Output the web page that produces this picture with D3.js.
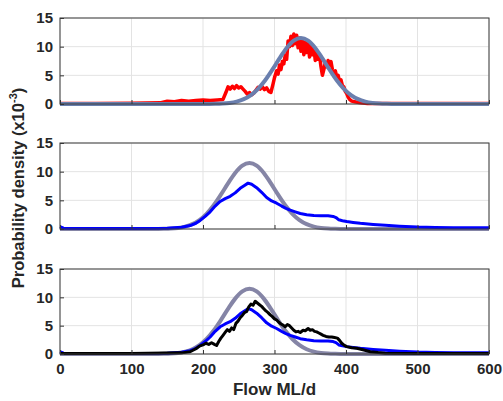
<!DOCTYPE html>
<html><head><meta charset="utf-8">
<script src="https://cdn.jsdelivr.net/npm/d3@7/dist/d3.min.js"></script>
<style>body{margin:0;background:#fff}svg{display:block}</style>
</head><body>
<script>
const xTicks = [0,100,200,300,400,500,600];
const yTicks = [0,5,10,15];

const redFlow = [0,50,100,140,150,160,170,180,190,200,210,220,228,232,235,238,241,244,247,250,253,256,259,262,265,268,271,274,277,280,283,286,289,292,295,298,300,303,305,307,309,311,313,315,317,319,321,323,325,327,329,331,333,335,337,339,341,343,345,347,349,351,353,355,357,359,361,363,365,367,369,371,373,375,377,379,381,383,385,387,389,391,393,395,397,399,401,403,405,408,412,416,420,430,500,600];
const redDensity = [0.1,0.1,0.15,0.2,0.5,0.4,0.6,0.5,0.6,0.7,0.6,0.7,0.8,2.0,3.0,2.6,3.1,2.7,3.2,2.8,3.0,2.6,2.2,1.7,2.0,1.6,1.9,2.4,2.9,2.6,3.0,2.5,2.8,2.2,2.0,3.5,4.6,5.8,5.2,6.8,6.0,7.4,7.0,8.5,7.8,11.0,10.0,11.8,10.2,12.2,10.5,12.0,9.8,11.5,9.2,11.0,8.6,10.8,9.0,10.5,8.2,10.2,8.6,9.8,7.6,9.0,7.8,8.5,6.5,5.0,6.0,7.2,6.5,7.6,6.8,7.4,6.0,5.4,5.8,4.8,5.0,4.0,4.2,3.2,3.0,2.2,1.8,1.2,0.8,0.5,0.4,0.3,0.2,0.1,0.1,0.1];

const fit1Flow = [0,200,217,227,237,247,257,267,277,287,297,307,317,327,337,347,357,367,377,387,397,407,417,427,437,447,457,470,600];
const fit1Density = [0,0,0.03,0.08,0.19,0.42,0.84,1.56,2.65,4.14,5.98,7.96,9.77,11.04,11.5,11.04,9.77,7.96,5.98,4.14,2.65,1.56,0.84,0.42,0.19,0.08,0.03,0,0];

const fit2Flow = [0,130,145,155,165,175,185,195,205,215,225,235,245,255,265,275,285,295,305,315,325,335,345,355,365,375,385,398,600];
const fit2Density = [0,0,0.03,0.08,0.19,0.42,0.84,1.56,2.65,4.14,5.98,7.96,9.77,11.04,11.5,11.04,9.77,7.96,5.98,4.14,2.65,1.56,0.84,0.42,0.19,0.08,0.03,0,0];

const blueFlow = [0,5,50,100,150,170,182,190,196,203,210,217,224,231,238,245,252,258,263,268,275,282,289,296,303,310,316,322,329,336,345,355,365,375,382,386,390,395,401,410,420,438,455,475,500,525,550,600];
const blueDensity = [0.4,0.15,0.1,0.1,0.15,0.3,0.6,1.0,1.5,2.2,3.0,4.0,4.8,5.3,5.7,6.3,7.1,7.6,8.0,7.8,7.2,6.4,5.5,4.9,4.5,4.0,3.6,3.3,3.0,2.7,2.5,2.35,2.3,2.3,2.2,2.0,1.6,1.45,1.3,1.15,1.0,0.8,0.65,0.5,0.35,0.28,0.22,0.2];

const blackFlow = [0,100,170,182,188,191,195,200,204,208,212,216,219,222,225,228,231,234,237,240,243,246,249,252,255,258,261,264,267,270,273,276,279,282,285,288,291,294,297,300,303,306,309,312,315,318,321,324,327,330,333,336,340,343,347,350,353,356,359,362,365,368,372,376,380,384,388,391,394,397,401,408,415,425,434,445,455,500,600];
const blackDensity = [0.1,0.1,0.2,0.4,0.8,1.0,1.4,1.6,1.9,1.7,2.0,1.7,1.5,2.2,2.8,3.3,3.8,4.3,4.0,4.6,4.3,5.4,5.8,6.4,6.8,7.3,7.5,8.3,8.8,8.6,9.3,9.0,8.7,8.4,8.0,7.6,7.3,6.9,6.6,6.2,6.0,5.6,5.3,5.1,4.8,5.2,5.0,4.6,4.2,3.9,4.0,3.8,4.2,4.1,4.5,4.2,4.3,4.0,3.9,3.7,3.5,3.3,3.1,3.0,3.0,2.9,2.8,2.4,1.9,1.6,1.3,1.1,1.0,0.7,0.4,0.25,0.15,0.1,0.1];

const W = 503, H = 401;
const svg = d3.select("body").append("svg").attr("width", W).attr("height", H);
const x = d3.scaleLinear().domain([0,600]).range([60,489]);
const font = "'Liberation Sans', Arial, sans-serif";

const panels = [
  {top:18, bottom:104, series:[
    {fx:redFlow, fy:redDensity, color:"#ff0000", w:3.5},
    {fx:fit1Flow, fy:fit1Density, color:"#6a7fae", w:4, smooth:true}
  ], xlabels:false},
  {top:143, bottom:229, series:[
    {fx:fit2Flow, fy:fit2Density, color:"#8585a6", w:4, smooth:true},
    {fx:blueFlow, fy:blueDensity, color:"#0000ff", w:3}
  ], xlabels:false},
  {top:269, bottom:354, series:[
    {fx:fit2Flow, fy:fit2Density, color:"#8585a6", w:4, smooth:true},
    {fx:blueFlow, fy:blueDensity, color:"#0000ff", w:3},
    {fx:blackFlow, fy:blackDensity, color:"#000000", w:3}
  ], xlabels:true}
];

panels.forEach(p => {
  const y = d3.scaleLinear().domain([0,15]).range([p.bottom, p.top]);
  const g = svg.append("g");
  g.selectAll(".gx").data(xTicks).join("line")
    .attr("x1", d=>x(d)).attr("x2", d=>x(d)).attr("y1", p.top).attr("y2", p.bottom)
    .attr("stroke", "#e3e3e3").attr("stroke-width", 1);
  g.selectAll(".gy").data(yTicks).join("line")
    .attr("y1", d=>y(d)).attr("y2", d=>y(d)).attr("x1", 60).attr("x2", 489)
    .attr("stroke", "#e3e3e3").attr("stroke-width", 1);
  p.series.forEach(s => {
    const pts = s.fx.map((v,i)=>[v, s.fy[i]]);
    const line = d3.line().x(d=>x(d[0])).y(d=>y(d[1]))
      .curve(s.smooth ? d3.curveMonotoneX : d3.curveLinear);
    g.append("path").datum(pts).attr("d", line).attr("fill","none")
      .attr("stroke", s.color).attr("stroke-width", s.w).attr("stroke-linejoin","round");
  });
  const ay = d3.axisLeft(y).tickValues(yTicks).tickSizeInner(-4).tickSizeOuter(0).tickPadding(7);
  const ax = d3.axisBottom(x).tickValues(xTicks).tickSizeInner(-4).tickSizeOuter(0).tickPadding(9)
    .tickFormat(p.xlabels ? d3.format("d") : "");
  const gy = g.append("g").attr("transform","translate(60,0)").call(ay);
  const gx = g.append("g").attr("transform",`translate(0,${p.bottom})`).call(ax);
  [gx, gy].forEach(a => {
    a.select(".domain").remove();
    a.selectAll("line").attr("stroke","#333");
    a.selectAll("text").attr("font-family", font).attr("font-weight","bold")
      .attr("font-size", 15).attr("fill","#262626");
  });
  g.append("rect").attr("x",60).attr("y",p.top).attr("width",429).attr("height",p.bottom-p.top)
    .attr("fill","none").attr("stroke","#3a3a3a").attr("stroke-width",1);
});

svg.append("text").attr("x", 274.5).attr("y", 395).attr("text-anchor","middle")
  .attr("font-family", font).attr("font-weight","bold").attr("font-size",17)
  .attr("fill","#262626").text("Flow ML/d");

const yl = svg.append("text").attr("transform","translate(24,188) rotate(-90)")
  .attr("text-anchor","middle").attr("font-family", font).attr("font-weight","bold")
  .attr("font-size",16.5).attr("fill","#262626");
yl.append("tspan").text("Probability density (x10");
yl.append("tspan").attr("font-size",11).attr("dy",-7).text("-3");
yl.append("tspan").attr("dy",7).text(")");
</script>
</body></html>
